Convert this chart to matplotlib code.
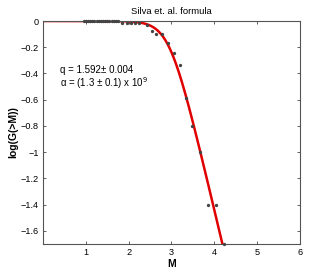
import numpy as np
import matplotlib
matplotlib.use('Agg')
import matplotlib.pyplot as plt

plt.rcParams['font.family'] = ['Liberation Sans', 'DejaVu Sans']

# observed points (M, log G(>M))
m_obs = [0.95, 1.0, 1.05, 1.1, 1.15, 1.2, 1.25, 1.3, 1.35, 1.4, 1.45, 1.5, 1.55, 1.6, 1.65, 1.7, 1.75,
         1.85, 1.95, 2.05, 2.15, 2.25, 2.42, 2.54, 2.65, 2.78, 2.92, 3.05, 3.19, 3.35, 3.49, 3.66,
         3.85, 4.03, 4.22]
logg_obs = [0, 0, 0, 0, 0, 0, 0, 0, 0, 0, 0, 0, 0, 0, 0, 0, 0,
            -0.018, -0.018, -0.018, -0.018, -0.018, -0.033, -0.074, -0.097, -0.10, -0.165, -0.247,
            -0.336, -0.59, -0.80, -1.0, -1.40, -1.40, -1.70]

# fit parameters shown on the chart
q = 1.592
alpha = 1.3e9

m_fit = np.linspace(0, 4.4, 400)
logg_fit = ((2 - q) / (1 - q)) * np.log10(1 - ((1 - q) / (2 - q)) * 10 ** (2 * m_fit) / alpha ** (2 / 3))

fig = plt.figure(figsize=(3.32, 2.76), dpi=100)
ax = fig.add_axes([0.1295, 0.1159, 0.774, 0.808])

ax.plot(m_fit, logg_fit, c='#e00000', lw=1.8, zorder=2)
ax.plot(m_obs, logg_obs, 'o', c='#444444', ms=2.4, mew=0, zorder=3, clip_on=False)

ax.set_xlim(0, 6)
ax.set_ylim(-1.7, 0)
ax.set_xticks([1, 2, 3, 4, 5, 6])
ax.set_yticks([-1.6, -1.4, -1.2, -1.0, -0.8, -0.6, -0.4, -0.2, 0])
ax.set_yticklabels(['\u22121.6', '\u22121.4', '\u22121.2', '\u22121', '\u22120.8', '\u22120.6',
                    '\u22120.4', '\u22120.2', '0'])
ax.tick_params(direction='in', top=True, right=True, length=2.5, width=0.6,
               labelsize=6.6, pad=3, color='#444444')
for s in ax.spines.values():
    s.set_linewidth(0.8)
    s.set_color('#555555')

ax.set_xlabel('M', fontsize=7.5, fontweight='bold', labelpad=1)
ax.set_ylabel('log(G(>M))', fontsize=7.5, fontweight='bold', labelpad=2)
ax.set_title('Silva et. al. formula', fontsize=6.8, pad=5)

ax.text(0.4, -0.37, 'q = 1.592\u00b1 0.004', fontsize=7, va='center')
ax.text(0.4, -0.475, '\u03b1 = (1.3 \u00b1 0.1) x 10$^9$', fontsize=7, va='center')

fig.savefig('out.png', dpi=100)
